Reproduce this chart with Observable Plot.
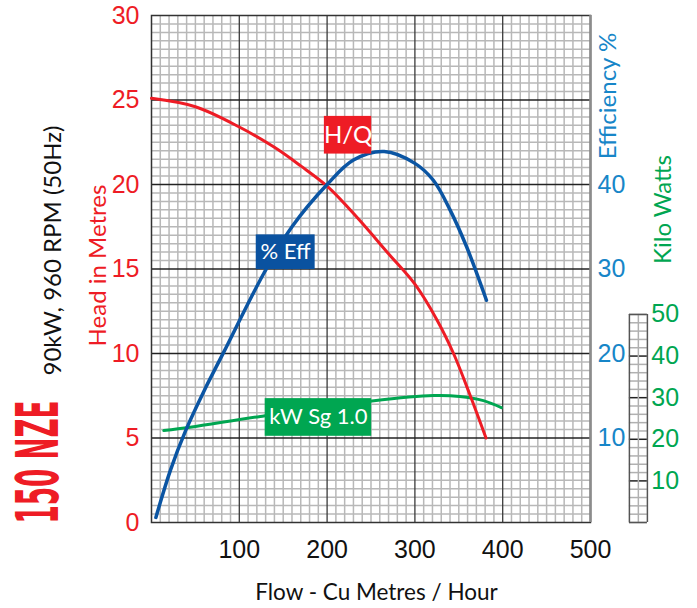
<!DOCTYPE html>
<html><head><meta charset="utf-8">
<script src="https://cdn.jsdelivr.net/npm/d3@7"></script>
<script src="https://cdn.jsdelivr.net/npm/@observablehq/plot@0.6"></script>
<style>
html,body{margin:0;padding:0;background:#fff;}
</style></head><body><div id="chart"></div>
<script>
// ---- data ----
const headFlow = [0, 50, 100, 140, 170, 200, 235, 270, 300, 325, 344, 362, 381];
const headM    = [25.1, 24.6, 23.4, 22.2, 21.1, 19.9, 18.0, 15.9, 14.1, 12.0, 10.0, 7.65, 5.0];
const effFlow  = [5, 21.6, 39, 60, 82, 128, 160, 200, 230, 265, 300, 321, 340, 359, 381.5];
const effPct   = [0.6, 6.2, 10.9, 15.6, 20.1, 29.5, 35.0, 40.0, 42.9, 43.9, 42.5, 40.5, 37.0, 32.6, 26.3];
const kwFlow   = [14, 44, 124, 251, 321, 351, 378, 398.5];
const kwVal    = [22.1, 22.9, 25.5, 29.2, 30.5, 30.3, 29.3, 27.6];
const flowTicks = [100, 200, 300, 400, 500];
const headTicks = [0, 5, 10, 15, 20, 25, 30];
const effTicks  = [10, 20, 30, 40];
const kwTicks   = [10, 20, 30, 40, 50];
const title = "150 NZE";
const subtitle = "90kW, 960 RPM (50Hz)";
const xLabel = "Flow - Cu Metres / Hour";
const yLabel = "Head in Metres";
const effLabel = "Efficiency %";
const kwLabel = "Kilo Watts";

// ---- styling / layout ----
const W = 697, H = 608, ML = 151, MR = 107, MT = 15, MB = 86;
const RED = "#ee1c25", BLUE = "#0b55a3", BLUE_T = "#1786c8", GREEN = "#00a651";
const NUM = "'Liberation Sans Narrow','Arial Narrow',sans-serif";
const WORD = "Lato, 'Open Sans', sans-serif";
const EFF_PER_HEAD = 2;          // efficiency axis: 60% at top of head axis
const KW_TO_HEAD = 12.31 / 50;   // kW axis: 50 kW box top
const BOX_X1 = 544.3, BOX_XM = 554.5, BOX_X2 = 564.8; // kW grid box (flow units, outside frame)
const KW_LABEL_X = 601;

const headData = headFlow.map((f, i) => ({flow: f, v: headM[i]}));
const effData = effFlow.map((f, i) => ({flow: f, v: effPct[i]}));
const kwData = kwFlow.map((f, i) => ({flow: f, v: kwVal[i]}));

const minorX = d3.range(0, 501, 10).filter(d => d % 100 !== 0);
const majorX = d3.range(100, 500, 100);
const minorY = d3.range(0, 30.01, 0.5).filter(d => d % 5 !== 0);
const majorY = d3.range(5, 30, 5);
const kwGrid = d3.range(0, 50.01, 2);

const lab = (s, X, Y, o) => Plot.text([s], Object.assign({frameAnchor: "top-left", dx: X - ML, dy: Y - MT, text: d => d}, o));

const chart = Plot.plot({
  width: W, height: H,
  marginLeft: ML, marginRight: MR, marginTop: MT, marginBottom: MB,
  x: {domain: [0, 500]},
  y: {domain: [0, 30]},
  style: {background: "#fff", fontFamily: WORD},
  marks: [
    Plot.ruleX(minorX, {stroke: "#b8b8b8", strokeWidth: 1.5}),
    Plot.ruleY(minorY, {stroke: "#b8b8b8", strokeWidth: 1.5}),
    Plot.ruleX(majorX, {stroke: "#3a3a3a", strokeWidth: 1.3}),
    Plot.ruleY(majorY, {stroke: "#222", strokeWidth: 1.3}),
    Plot.frame({stroke: "#333", strokeWidth: 1.5}),
    Plot.ruleX([500], {stroke: "#8c8c8c", strokeWidth: 2.5}),
    // kW grid box
    Plot.ruleY(kwGrid, {y: d => d * KW_TO_HEAD, x1: BOX_X1, x2: BOX_X2,
      stroke: d => (d % 10 === 0 && d > 0 && d < 50) ? "#222" : "#b0b0b0", strokeWidth: 1.5}),
    Plot.ruleX([BOX_XM], {y1: 0, y2: 50 * KW_TO_HEAD, stroke: "#b0b0b0", strokeWidth: 1.5}),
    Plot.ruleX([BOX_X1, BOX_X2], {y1: 0, y2: 50 * KW_TO_HEAD, stroke: "#555", strokeWidth: 1.5}),
    Plot.ruleY([0, 50 * KW_TO_HEAD], {x1: BOX_X1, x2: BOX_X2, stroke: "#555", strokeWidth: 1.5}),
    // curves
    Plot.line(kwData, {x: "flow", y: d => d.v * KW_TO_HEAD, stroke: GREEN, strokeWidth: 3, curve: "catmull-rom"}),
    Plot.line(headData, {x: "flow", y: "v", stroke: RED, strokeWidth: 3, curve: "catmull-rom"}),
    Plot.line(effData, {x: "flow", y: d => d.v / EFF_PER_HEAD, stroke: BLUE, strokeWidth: 3.5, curve: "catmull-rom"}),
    // curve labels
    Plot.rect([0], {x1: 196.9, x2: 250.8, y1: 21.8, y2: 24.03, fill: RED}),
    Plot.text(["H/Q"], {x: 223.9, y: 22.9, text: d => d, fill: "#fff", fontSize: 24, fontFamily: WORD}),
    Plot.rect([0], {x1: 119.3, x2: 186.4, y1: 14.97, y2: 17.02, fill: "#0a52a0"}),
    Plot.text(["% Eff"], {x: 152.8, y: 16.0, text: d => d, fill: "#fff", fontSize: 22, fontFamily: WORD}),
    Plot.rect([0], {x1: 129.5, x2: 250.8, y1: 5.1, y2: 7.33, fill: GREEN}),
    Plot.text(["kW Sg 1.0"], {x: 190.1, y: 6.23, text: d => d, fill: "#fff", fontSize: 22, fontFamily: WORD}),
    // axes
    Plot.axisX(flowTicks, {anchor: "bottom", tickSize: 0, tickPadding: 18, fontSize: 25, fontFamily: NUM, color: "#111", fill: "#111", label: null}),
    Plot.axisY(headTicks, {anchor: "left", tickSize: 0, tickPadding: 12, fontSize: 25, fontFamily: NUM, color: RED, fill: RED, label: null}),
    Plot.axisY(effTicks.map(e => e / EFF_PER_HEAD), {anchor: "right", tickSize: 0, tickPadding: 7, fontSize: 25, fontFamily: NUM, color: BLUE_T, fill: BLUE_T, label: null, tickFormat: d => String(d * EFF_PER_HEAD)}),
    Plot.text(kwTicks, {x: KW_LABEL_X, y: d => d * KW_TO_HEAD, text: d => String(d), textAnchor: "end", fill: GREEN, fontSize: 25, fontFamily: NUM}),
    // titles
    lab(xLabel, 376, 599, {textAnchor: "middle", lineAnchor: "bottom", fontSize: 22.5, fill: "#111"}),
    lab(yLabel, 105, 265, {rotate: -90, textAnchor: "middle", lineAnchor: "bottom", fontSize: 24, fill: RED}),
    lab(effLabel, 615, 95.5, {rotate: -90, textAnchor: "middle", lineAnchor: "bottom", fontSize: 24, fill: BLUE_T}),
    lab(kwLabel, 670, 209, {rotate: -90, textAnchor: "middle", lineAnchor: "bottom", fontSize: 24, fill: GREEN}),
    lab(subtitle, 60, 250, {rotate: -90, textAnchor: "middle", lineAnchor: "bottom", fontSize: 24, fill: "#111"}),
    lab(title, 57, 461.5, {rotate: -90, textAnchor: "middle", lineAnchor: "bottom", fontSize: 59, fontWeight: "bold", fontFamily: "'DejaVu Sans Condensed','DejaVu Sans',sans-serif", fill: RED})
  ]
});

d3.select(chart).selectAll("text")
  .filter(function() { return this.textContent === title; })
  .attr("textLength", 123).attr("lengthAdjust", "spacingAndGlyphs");
document.getElementById("chart").appendChild(chart);
</script>
</body></html>
